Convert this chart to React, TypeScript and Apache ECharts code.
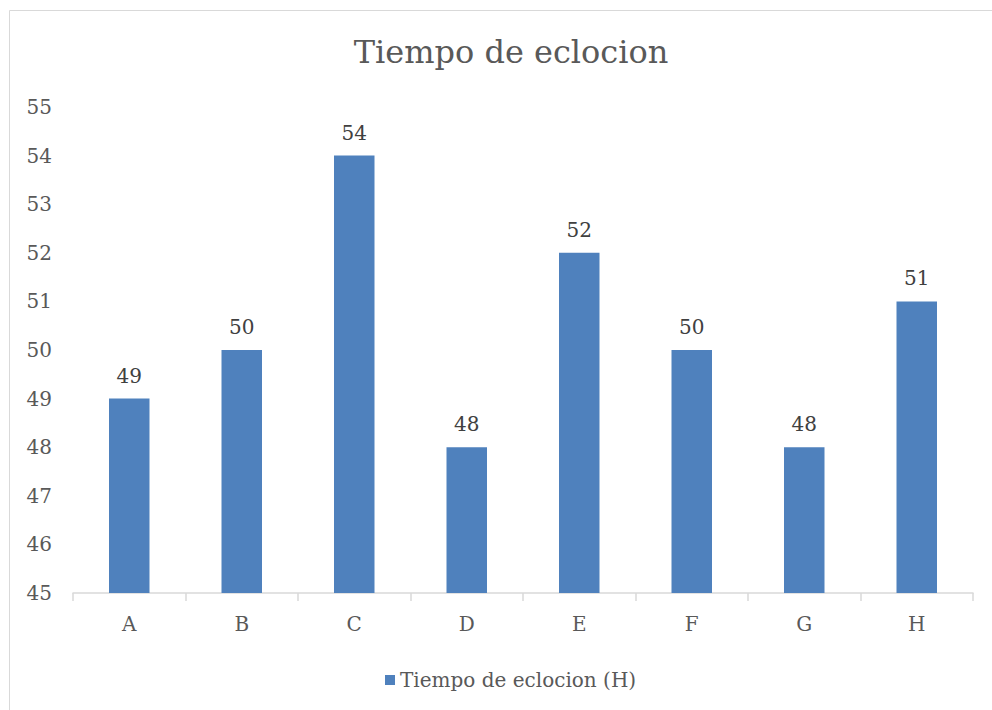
import React, { useEffect, useRef } from "react";
import * as echarts from "echarts";

const categories = ["A", "B", "C", "D", "E", "F", "G", "H"];
const values = [49, 50, 54, 48, 52, 50, 48, 51];
const seriesName = "Tiempo de eclocion (H)";
const titleText = "Tiempo de eclocion";

const FONT = "DejaVu Serif";

export default function App() {
  const ref = useRef<HTMLDivElement>(null);
  useEffect(() => {
    if (!ref.current) return;
    const chart = echarts.init(ref.current, undefined, { renderer: "svg" });
    chart.setOption({
      animation: false,
      backgroundColor: "#ffffff",
      textStyle: { fontFamily: FONT },
      title: {
        text: titleText,
        left: 506,
        textAlign: "center",
        top: 31,
        textStyle: { fontFamily: FONT, fontSize: 32, fontWeight: "normal", color: "#595959" },
      },
      graphic: [
        {
          type: "rect",
          shape: { x: 9.5, y: 10.5, width: 1200, height: 1000 },
          style: { fill: "none", stroke: "#d9d9d9", lineWidth: 1 },
          silent: true,
        },
      ],
      legend: {
        data: [seriesName],
        left: 380,
        top: 665,
        icon: "rect",
        itemWidth: 10,
        itemHeight: 10,
        itemGap: 8,
        textStyle: { fontFamily: FONT, fontSize: 20, color: "#595959" },
      },
      grid: { left: 73, right: 19, top: 107, bottom: 117, containLabel: false },
      xAxis: {
        type: "category",
        data: categories,
        axisLine: { lineStyle: { color: "#d9d9d9", width: 1.5 } },
        axisTick: { show: true, length: 8, alignWithLabel: false, lineStyle: { color: "#d9d9d9", width: 1.5 } },
        axisLabel: { fontFamily: FONT, fontSize: 20, color: "#595959", margin: 21 },
      },
      yAxis: {
        type: "value",
        min: 45,
        max: 55,
        interval: 1,
        axisLine: { show: false },
        axisTick: { show: false },
        splitLine: { show: false },
        axisLabel: { fontFamily: FONT, fontSize: 20, color: "#595959", margin: 21 },
      },
      series: [
        {
          name: seriesName,
          type: "bar",
          data: values,
          barWidth: "36%",
          itemStyle: { color: "#4f81bd" },
          label: {
            show: true,
            position: "top",
            distance: 13,
            fontFamily: FONT,
            fontSize: 20,
            color: "#404040",
          },
        },
      ],
    });
    return () => chart.dispose();
  }, []);
  return (
    <div
      ref={ref}
      style={{ position: "fixed", left: 0, top: 0, width: 992, height: 710 }}
    />
  );
}
